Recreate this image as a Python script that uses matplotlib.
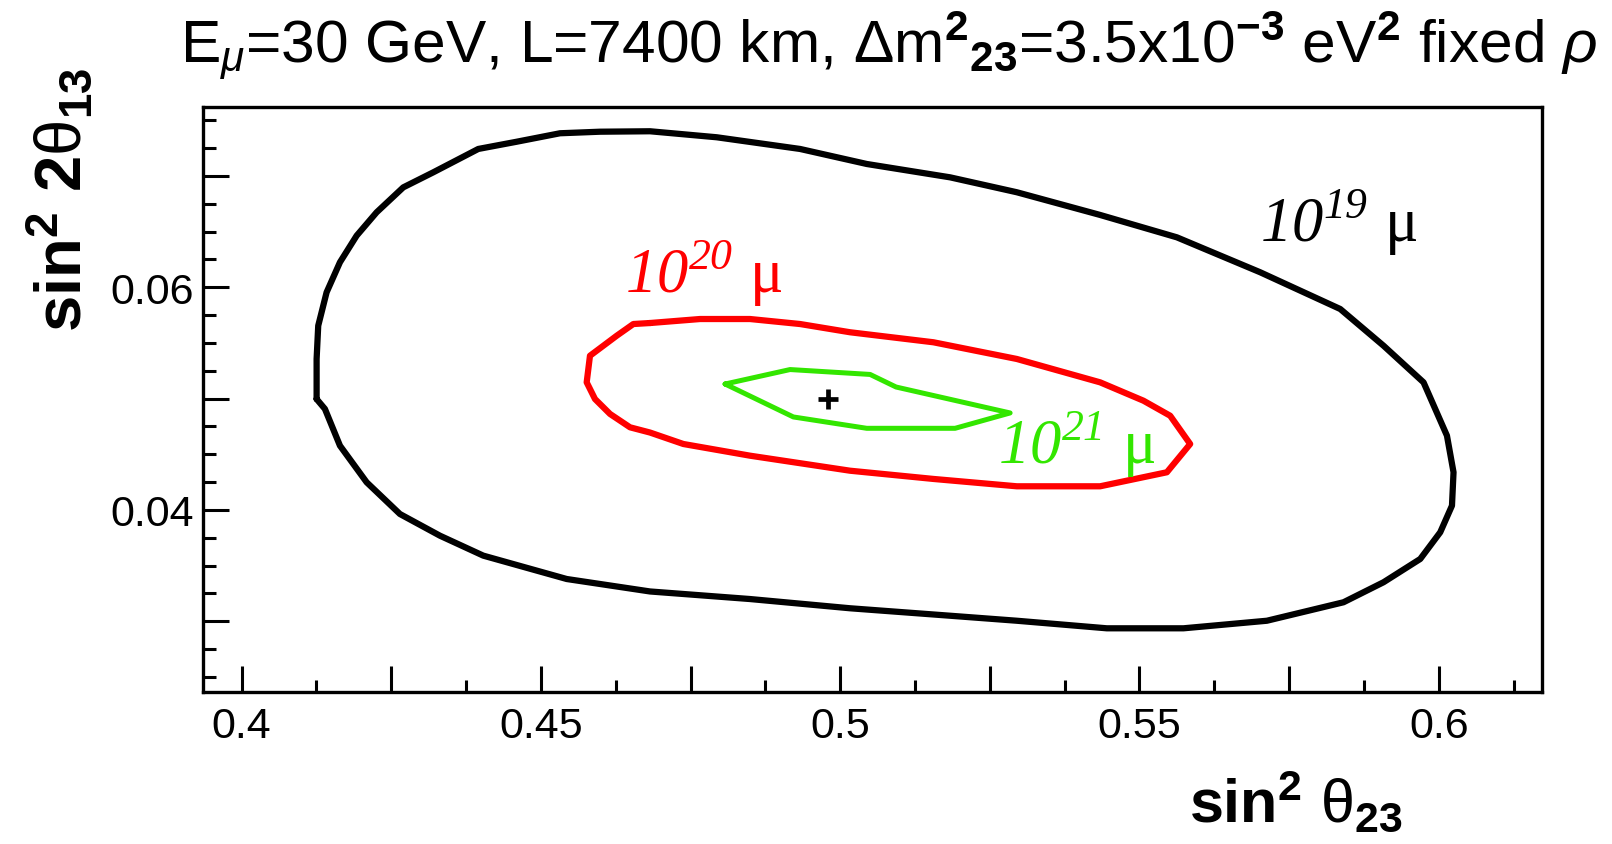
import numpy as np
import matplotlib
matplotlib.use("Agg")
import matplotlib.pyplot as plt

plt.rcParams['mathtext.fontset'] = 'custom'
plt.rcParams['mathtext.rm'] = 'Liberation Sans'
plt.rcParams['mathtext.it'] = 'Liberation Sans:italic'
plt.rcParams['mathtext.bf'] = 'Liberation Sans:bold'
plt.rcParams['mathtext.sf'] = 'Liberation Serif:italic'
plt.rcParams['font.family'] = ['Liberation Sans', 'DejaVu Sans']

# ---- data ----
black_x = [0.41253, 0.41253, 0.41280, 0.41420, 0.41643, 0.41922, 0.42256, 0.42701,
           0.43202, 0.43954, 0.44596, 0.45319, 0.45988, 0.46823, 0.47938, 0.49330,
           0.50444, 0.51837, 0.52951, 0.54343, 0.55625, 0.57017, 0.58354, 0.59078,
           0.59746, 0.60137, 0.60247, 0.60221, 0.60025, 0.59691, 0.59078, 0.58409,
           0.57129, 0.55735, 0.54455, 0.52951, 0.51837, 0.50165, 0.48494, 0.46823,
           0.45431, 0.44037, 0.43314, 0.42645, 0.42089, 0.41643, 0.41392]
black_y = [0.04996, 0.05356, 0.05655, 0.05955, 0.06225, 0.06464, 0.06674, 0.06898,
           0.07033, 0.07243, 0.07308, 0.07384, 0.07398, 0.07402, 0.07348, 0.07243,
           0.07108, 0.06988, 0.06854, 0.06650, 0.06449, 0.06135, 0.05805, 0.05475,
           0.05146, 0.04667, 0.04338, 0.04038, 0.03799, 0.03559, 0.03350, 0.03170,
           0.03004, 0.02936, 0.02936, 0.03004, 0.03049, 0.03116, 0.03199, 0.03267,
           0.03379, 0.03589, 0.03768, 0.03963, 0.04248, 0.04577, 0.04907]

red_x = [0.46823, 0.47659, 0.48494, 0.49330, 0.50165, 0.51558, 0.52951, 0.54343,
         0.55067, 0.55513, 0.55847, 0.55458, 0.54343, 0.52951, 0.51558, 0.50165,
         0.48494, 0.47380, 0.46823, 0.46489, 0.46155, 0.45904, 0.45765, 0.45820,
         0.46267, 0.46544]
red_y = [0.05679, 0.05715, 0.05715, 0.05670, 0.05596, 0.05506, 0.05356, 0.05146,
         0.04981, 0.04846, 0.04592, 0.04338, 0.04212, 0.04212, 0.04278, 0.04352,
         0.04487, 0.04592, 0.04695, 0.04742, 0.04862, 0.04996, 0.05146, 0.05385,
         0.05565, 0.05670]

green_x = [0.48077, 0.49163, 0.50500, 0.50934, 0.52839, 0.51920, 0.50444, 0.49218]
green_y = [0.05131, 0.05261, 0.05217, 0.05104, 0.04871, 0.04733, 0.04733, 0.04835]

best_fit = (0.498, 0.050)

x_ticks = [0.4, 0.425, 0.45, 0.475, 0.5, 0.525, 0.55, 0.575, 0.6]
x_tick_labels = ['0.4', '', '0.45', '', '0.5', '', '0.55', '', '0.6']
y_ticks = [0.03, 0.04, 0.05, 0.06, 0.07]
y_tick_labels = ['', '0.04', '', '0.06', '']

labels = [r'$\mathsf{10}^{\mathsf{19}}$ μ', r'$\mathsf{10}^{\mathsf{20}}$ μ', r'$\mathsf{10}^{\mathsf{21}}$ μ']
colors = ['black', '#ff0000', '#33e600']

# ---- figure ----
W, H = 1612, 845
fig = plt.figure(figsize=(W / 100, H / 100), dpi=100)
ax = fig.add_axes([203.3 / W, 1 - 693.3 / H, (1541.7 - 203.3) / W, (693.3 - 108) / H])

for xs, ys, c, lw in [(black_x, black_y, colors[0], 4.5), (red_x, red_y, colors[1], 4.5),
                      (green_x, green_y, colors[2], 3.6)]:
    ax.plot(xs + xs[:1], ys + ys[:1], color=c, lw=lw,
            solid_joinstyle='round', solid_capstyle='round')

ax.plot([best_fit[0]], [best_fit[1]], marker='+', color='black', ms=14, mew=3.4)

ax.set_xlim(0.3936, 0.6172)
ax.set_ylim(0.02361, 0.0762)

ax.set_xticks(x_ticks)
ax.set_xticklabels(x_tick_labels)
ax.set_xticks(np.arange(0.4125, 0.62, 0.025), minor=True)
ax.set_yticks(y_ticks)
ax.set_yticklabels(y_tick_labels)
ax.set_yticks([v for v in np.arange(0.025, 0.0751, 0.0025) if min(abs(v - t) for t in y_ticks) > 1e-6], minor=True)

ax.tick_params(which='both', direction='in', top=False, right=False, width=2.2, labelsize=31)
ax.tick_params(which='major', length=18.5)
ax.tick_params(which='minor', length=9)
ax.tick_params(axis='x', which='major', pad=10)
ax.tick_params(axis='y', which='major', pad=7)
for s in ax.spines.values():
    s.set_linewidth(2.4)

# contour labels
ax.text(0.5702, 0.0642, labels[0], color=colors[0], fontsize=45, family='Liberation Serif',
        ha='left', va='baseline')
ax.text(0.4641, 0.05955, labels[1], color=colors[1], fontsize=45, family='Liberation Serif',
        ha='left', va='baseline')
ax.text(0.5264, 0.04421, labels[2], color=colors[2], fontsize=45, family='Liberation Serif',
        ha='left', va='baseline')

# title
title = (r'E$_{\mu}$=30 GeV, L=7400 km, $\mathrm{\Delta}$m${}^{\mathbf{2}}{}_{\mathbf{23}}$'
         r'=3.5x10$^{\mathbf{-3}}$ eV$^{\mathbf{2}}$ fixed $\rho$')
fig.text(180 / W, 1 - 62 / H, title, fontsize=43.5, ha='left', va='baseline')

# axis labels
fig.text(1403 / W, 1 - 822 / H, r'$\mathbf{sin^{2}}\ \mathrm{θ}_{\mathbf{23}}$', fontsize=44,
         ha='right', va='baseline')
fig.text(82 / W, 1 - 68 / H, r'$\mathbf{sin^{2}\ 2}\mathrm{θ}_{\mathbf{13}}$', fontsize=47,
         ha='right', va='baseline', rotation=90, rotation_mode='anchor')

fig.savefig('out.png', dpi=100)
